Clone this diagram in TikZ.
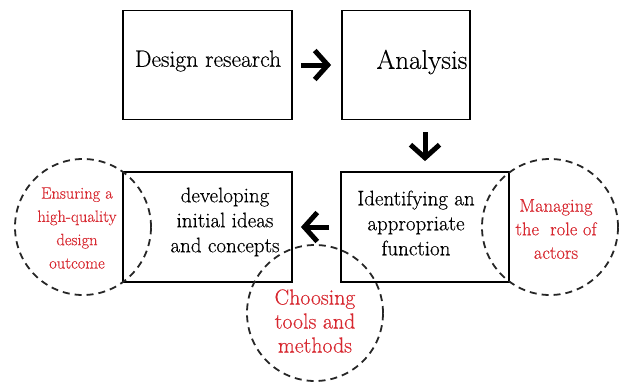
\documentclass[tikz,border=0pt]{standalone}
\usepackage{fontspec}
\setmainfont{Latin Modern Roman}[FakeBold=0.35]
\usetikzlibrary{arrows.meta}
\definecolor{redtxt}{RGB}{215,40,48}
\begin{document}
\begin{tikzpicture}[x=1pt,y=-1pt,
  box/.style={draw=black, line width=1.8pt, rectangle, inner sep=0pt},
  blacktext/.style={font=\fontsize{21}{25}\selectfont, align=center, text=black},
  redtext/.style={align=center, text=redtxt},
  dcircle/.style={draw=black!85, line width=1.8pt, dash pattern=on 7pt off 5pt, circle, inner sep=0pt},
  bigarrow/.style={line width=5pt, -{Straight Barb[length=13pt,width=29pt]}}]
\useasboundingbox (0,0) rectangle (620,381);
% boxes
\node[box, minimum width=169pt, minimum height=109pt] (dr) at (207.5,65) {};
\node[blacktext, font=\fontsize{23.5}{26}\selectfont] at (208,61) {Design research};
\node[box, minimum width=128pt, minimum height=109pt] (an) at (406,65) {};
\node[blacktext, font=\fontsize{27}{30}\selectfont] at (422,62) {Analysis};
\node[box, minimum width=168pt, minimum height=110pt] (id) at (425,227) {};
\node[blacktext] at (416,223) {Identifying an\\appropriate\\function};
\node[box, minimum width=169pt, minimum height=110pt] (dv) at (207.5,227) {};
\node[blacktext] at (225,222) {developing\\initial ideas\\and concepts};
% circles
\node[dcircle, minimum size=136pt] (ens) at (83,227) {};
\node[redtext, font=\fontsize{16.5}{23.3}\selectfont] at (77,228) {Ensuring a\\high-quality\\design\\outcome};
\node[dcircle, minimum size=136pt] (man) at (550,227) {};
\node[redtext, font=\fontsize{18.5}{23.5}\selectfont] at (556,229) {Managing\\the~~role of\\actors};
\node[dcircle, minimum size=136pt] (cho) at (315,313) {};
\node[redtext, font=\fontsize{21.8}{24}\selectfont] at (315,321) {Choosing\\tools and\\methods};
% arrows
\draw[bigarrow, shorten <=8pt, shorten >=10pt] (dr.east) -- (an.west);
\draw[bigarrow, shorten <=12pt, shorten >=10pt] (an.south -| id.north) -- (id.north);
\draw[bigarrow, shorten <=11pt, shorten >=8pt] (id.west) -- (dv.east);
\end{tikzpicture}
\end{document}
